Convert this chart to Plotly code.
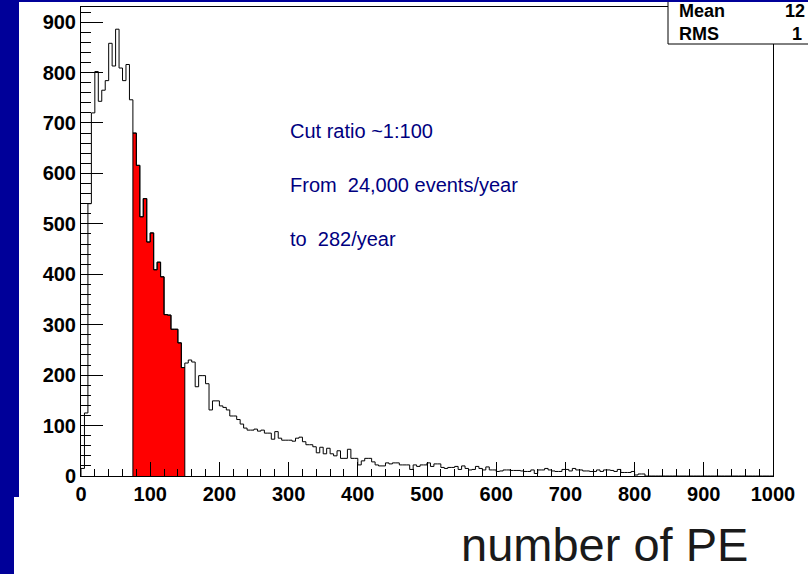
import plotly.graph_objects as go

# ---------------- data ----------------
bin_width = 5
x_min, x_max = 0, 1000
counts = [
    15, 125, 540, 720, 802, 743, 765, 784, 858, 813,
    886, 809, 784, 816, 746, 680, 616, 514, 550, 464,
    482, 409, 424, 395, 320, 319, 291, 291, 264, 215,
    224, 230, 226, 177, 199, 199, 183, 131, 149, 149,
    139, 136, 131, 119, 119, 112, 103, 95, 91, 91,
    93, 89, 91, 85, 85, 73, 88, 75, 71, 71,
    71, 69, 75, 77, 68, 62, 62, 58, 46, 57,
    44, 55, 44, 40, 50, 35, 35, 53, 35, 35,
    22, 30, 35, 35, 28, 22, 20, 20, 26, 24,
    26, 26, 22, 22, 22, 13, 22, 19, 22, 22,
    26, 19, 24, 24, 17, 15, 17, 17, 19, 13,
    20, 15, 12, 13, 19, 15, 12, 18, 12, 12,
    9, 10, 12, 12, 11, 11, 11, 10, 9, 9,
    12, 5, 12, 12, 15, 12, 10, 9, 9, 13,
    13, 10, 15, 12, 12, 10, 10, 9, 9, 12,
    9, 12, 12, 11, 9, 13, 7, 7, 7, 9,
    2, 4, 4, 0, 0, 0, 0, 0, 0, 0,
    0, 0, 0, 0, 0, 0, 0, 0, 0, 0,
    0, 0, 0, 0, 0, 0, 0, 0, 0, 0,
    0, 0, 0, 0, 0, 0, 0, 0, 0, 0,
]
cut_low, cut_high = 75, 150
x_ticks = [0, 100, 200, 300, 400, 500, 600, 700, 800, 900, 1000]
y_ticks = [0, 100, 200, 300, 400, 500, 600, 700, 800, 900]
notes = ["Cut ratio ~1:100", "From \u00a024,000 events/year", "to \u00a0282/year"]
stat_names = ["Mean", "RMS"]
stat_values = ["12", "1"]   # only the visible part of the stats values
axis_title = "number of PE"

# ---------------- build step outlines ----------------
n = len(counts)
edges = [x_min + i * bin_width for i in range(n + 1)]
step_x = [edges[0]] + edges[:-1] + [edges[-1]]
step_y = [0] + counts + [counts[-1]]

cut_idx = [i for i in range(n) if edges[i] >= cut_low and edges[i + 1] <= cut_high]
red_x = [edges[cut_idx[0]]] + [edges[i] for i in cut_idx] + [edges[cut_idx[-1] + 1]] * 2
red_y = [0] + [counts[i] for i in cut_idx] + [counts[cut_idx[-1]], 0]

W, H = 808, 574
L, R, T, B = 81, 35, 7, 98
pw, ph = W - L - R, H - T - B


def px(xp):
    return (xp - L) / pw


def py(yp):
    return (H - B - yp) / ph


fig = go.Figure()
fig.add_trace(go.Scatter(x=red_x, y=red_y, mode="lines", line=dict(shape="hv", color="black", width=1),
                         fill="toself", fillcolor="#ff0000", hoverinfo="skip", showlegend=False))
fig.add_trace(go.Scatter(x=step_x, y=step_y, mode="lines", line=dict(shape="hv", color="black", width=1),
                         hoverinfo="skip", showlegend=False))

tick_font = dict(family="Liberation Sans, Arial, sans-serif", size=20, color="black", weight="bold")

fig.update_layout(
    template="none",
    width=W, height=H,
    margin=dict(l=L, r=R, t=T, b=B, autoexpand=False),
    paper_bgcolor="white", plot_bgcolor="white",
    showlegend=False,
    xaxis=dict(range=[x_min, x_max], tickvals=x_ticks, ticktext=[str(v) for v in x_ticks],
               ticks="inside", ticklen=14, tickwidth=1, tickcolor="black",
               minor=dict(dtick=20, ticks="inside", ticklen=7, tickwidth=1, tickcolor="black", showgrid=False),
               showline=True, mirror=True, linecolor="black", linewidth=1,
               showgrid=False, zeroline=False, tickfont=tick_font, automargin=False),
    yaxis=dict(range=[0, 930], tickvals=y_ticks, ticktext=[str(v) for v in y_ticks],
               ticks="inside", ticklen=22, tickwidth=1, tickcolor="black",
               minor=dict(dtick=20, ticks="inside", ticklen=10, tickwidth=1, tickcolor="black", showgrid=False),
               showline=True, mirror=True, linecolor="black", linewidth=1,
               showgrid=False, zeroline=False, tickfont=tick_font, automargin=False),
)

blue = "#000099"
shapes = [
    # stats box
    dict(type="rect", xref="paper", yref="paper", x0=px(668), x1=px(830), y0=py(44), y1=py(1),
         fillcolor="white", line=dict(color="black", width=1), layer="above"),
    # slide background strips
    dict(type="rect", xref="paper", yref="paper", x0=px(0), x1=px(19), y0=py(497), y1=py(0),
         fillcolor=blue, line=dict(width=0), layer="above"),
    dict(type="rect", xref="paper", yref="paper", x0=px(0), x1=px(14), y0=py(574), y1=py(497),
         fillcolor=blue, line=dict(width=0), layer="above"),
    dict(type="rect", xref="paper", yref="paper", x0=px(0), x1=px(808), y0=py(2), y1=py(0),
         fillcolor=blue, line=dict(width=0), layer="above"),
]
fig.update_layout(shapes=shapes)

note_font = dict(family="Liberation Sans, Arial, sans-serif", size=20, color="#000080")
for txt, yp in zip(notes, [131, 185, 239]):
    fig.add_annotation(text=txt, xref="paper", yref="paper", x=px(288), y=py(yp),
                       xanchor="left", yanchor="middle", showarrow=False, font=note_font)

stat_font = dict(family="Liberation Sans, Arial, sans-serif", size=18, color="black", weight="bold")
for name, yp in zip(stat_names, [11, 34]):
    fig.add_annotation(text=name, xref="paper", yref="paper", x=px(677), y=py(yp),
                       xanchor="left", yanchor="middle", showarrow=False, font=stat_font)
fig.add_annotation(text=stat_values[0], xref="paper", yref="paper", x=px(783), y=py(11),
                   xanchor="left", yanchor="middle", showarrow=False, font=stat_font)
fig.add_annotation(text=stat_values[1], xref="paper", yref="paper", x=px(804), y=py(34),
                   xanchor="right", yanchor="middle", showarrow=False, font=stat_font)

fig.add_annotation(text=axis_title, xref="paper", yref="paper", x=px(459), y=py(544),
                   xanchor="left", yanchor="middle", showarrow=False,
                   font=dict(family="Liberation Sans, Arial, sans-serif", size=47, color="#1a1a1a"))

fig.write_html("out.html")
